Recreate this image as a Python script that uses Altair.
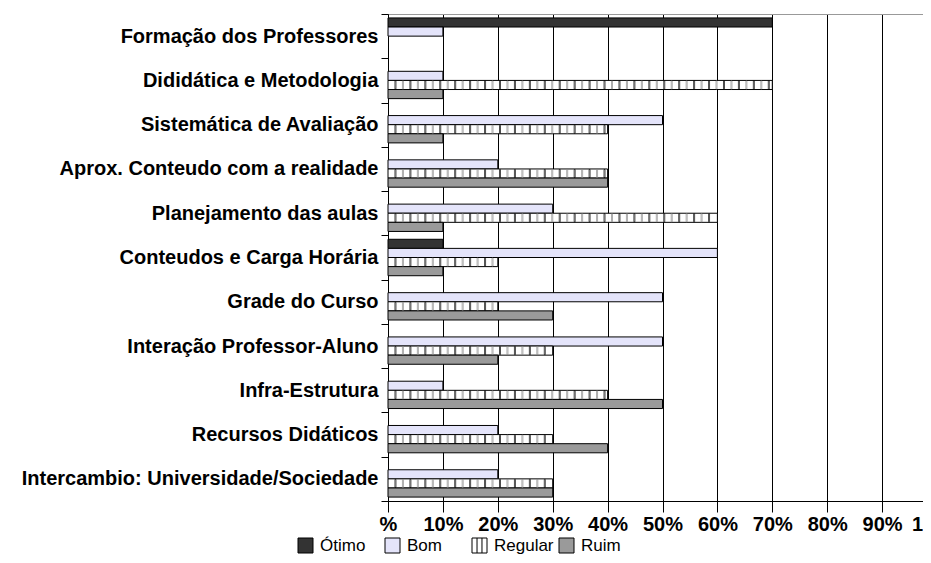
import altair as alt
import pandas as pd

categories = [
    "Formação dos Professores",
    "Dididática e Metodologia",
    "Sistemática de Avaliação",
    "Aprox. Conteudo com a realidade",
    "Planejamento das aulas",
    "Conteudos e Carga Horária",
    "Grade do Curso",
    "Interação Professor-Aluno",
    "Infra-Estrutura",
    "Recursos Didáticos",
    "Intercambio: Universidade/Sociedade",
]
series = ["Ótimo", "Bom", "Regular", "Ruim"]
otimo = [70, 0, 0, 0, 0, 10, 0, 0, 0, 0, 0]
bom = [10, 10, 50, 20, 30, 60, 50, 50, 10, 20, 20]
regular = [0, 70, 40, 40, 60, 20, 20, 30, 40, 30, 30]
ruim = [0, 10, 10, 40, 10, 10, 30, 20, 50, 40, 30]
x_ticks = [0, 10, 20, 30, 40, 50, 60, 70, 80, 90, 100]

colors = ["#333333", "#E4E4FA", "#FFFFFF", "#9A9A9A"]
hatch_path = "M-1,-1H1V1H-1Z M-0.33,-1V1 M0.33,-1V1"

rows = []
for i, c in enumerate(categories):
    for s, vals in zip(series, [otimo, bom, regular, ruim]):
        rows.append({"cat": c, "serie": s, "valor": vals[i]})
df = pd.DataFrame(rows)
bars_df = df[df["valor"] > 0]

# vertical hatch lines inside the "Regular" bars
hatch_step = 1.36
hrows = []
for i, c in enumerate(categories):
    v = regular[i]
    k = 1
    while k * hatch_step < v - 0.3:
        hrows.append({"cat": c, "serie": "Regular", "pos": k * hatch_step,
                      "tone": "a" if k % 2 else "b"})
        k += 1
hatch_df = pd.DataFrame(hrows)

FONT = "Liberation Sans"

# the plot area runs past the right edge of the page, as in the reference
x_scale = alt.Scale(domain=[0, 100], range=[0, 549], nice=False)

y_enc = alt.Y("cat:N", sort=categories,
              scale=alt.Scale(paddingInner=0, paddingOuter=0),
              axis=alt.Axis(title=None, tickBand="extent", tickSize=7,
                            tickColor="black", domainColor="black",
                            labelFont=FONT, labelFontSize=20,
                            labelFontWeight="bold", labelColor="black",
                            labelPadding=3, labelLimit=600, grid=False))
yoff_enc = alt.YOffset("serie:N", sort=series,
                       scale=alt.Scale(domain=series, paddingInner=0,
                                       paddingOuter=0.43))
x_enc = alt.X("valor:Q", scale=x_scale,
              axis=alt.Axis(title=None, values=x_ticks, orient="bottom",
                            labelExpr="datum.value == 0 ? '%' : datum.value + '%'",
                            labelFont=FONT, labelFontSize=20,
                            labelFontWeight="bold", labelColor="black",
                            labelPadding=2, labelFlush=False,
                            labelOverlap=False, tickSize=11,
                            tickColor="black", domainColor="black",
                            gridColor="black", gridOpacity=1, gridWidth=1))

legend = alt.Legend(
    title=None, orient="none", legendX=-91, legendY=523,
    direction="horizontal", columns=4, gridAlign="all", columnPadding=3,
    symbolSize=225,
    symbolType=alt.ExprRef(expr="datum.value === 'Regular' ? '" + hatch_path + "' : 'square'"),
    symbolOpacity=1, symbolStrokeColor="black", symbolStrokeWidth=1,
    labelFont=FONT, labelFontSize=17, labelColor="black", labelOffset=6,
)

bars = alt.Chart(bars_df).mark_bar(stroke="black", strokeWidth=1).encode(
    x=x_enc,
    y=y_enc,
    yOffset=yoff_enc,
    color=alt.Color("serie:N", scale=alt.Scale(domain=series, range=colors),
                    legend=legend),
)

hatch = alt.Chart(hatch_df).mark_tick(thickness=1, size=8).encode(
    x=alt.X("pos:Q", scale=x_scale,
            axis=alt.Axis(orient="top", title=None, labels=False, ticks=False,
                          grid=False, domainColor="#999999")),
    y=alt.Y("cat:N", sort=categories),
    yOffset=alt.YOffset("serie:N", sort=series),
    stroke=alt.Stroke("tone:N", scale=alt.Scale(domain=["a", "b"],
                                                range=["#000000", "#8A8A8A"]),
                      legend=None),
    fill=alt.value("transparent"),
)

chart = alt.layer(bars, hatch).resolve_axis(
    x="independent"
).properties(
    width=535,
    height=487,
    autosize=alt.AutoSizeParams(type="none"),
    padding={"left": 380, "top": 6, "right": 0, "bottom": 54},
    background="white",
).configure_view(stroke=None)

chart.save("out.html", embed_options={"renderer": "svg", "actions": False})
